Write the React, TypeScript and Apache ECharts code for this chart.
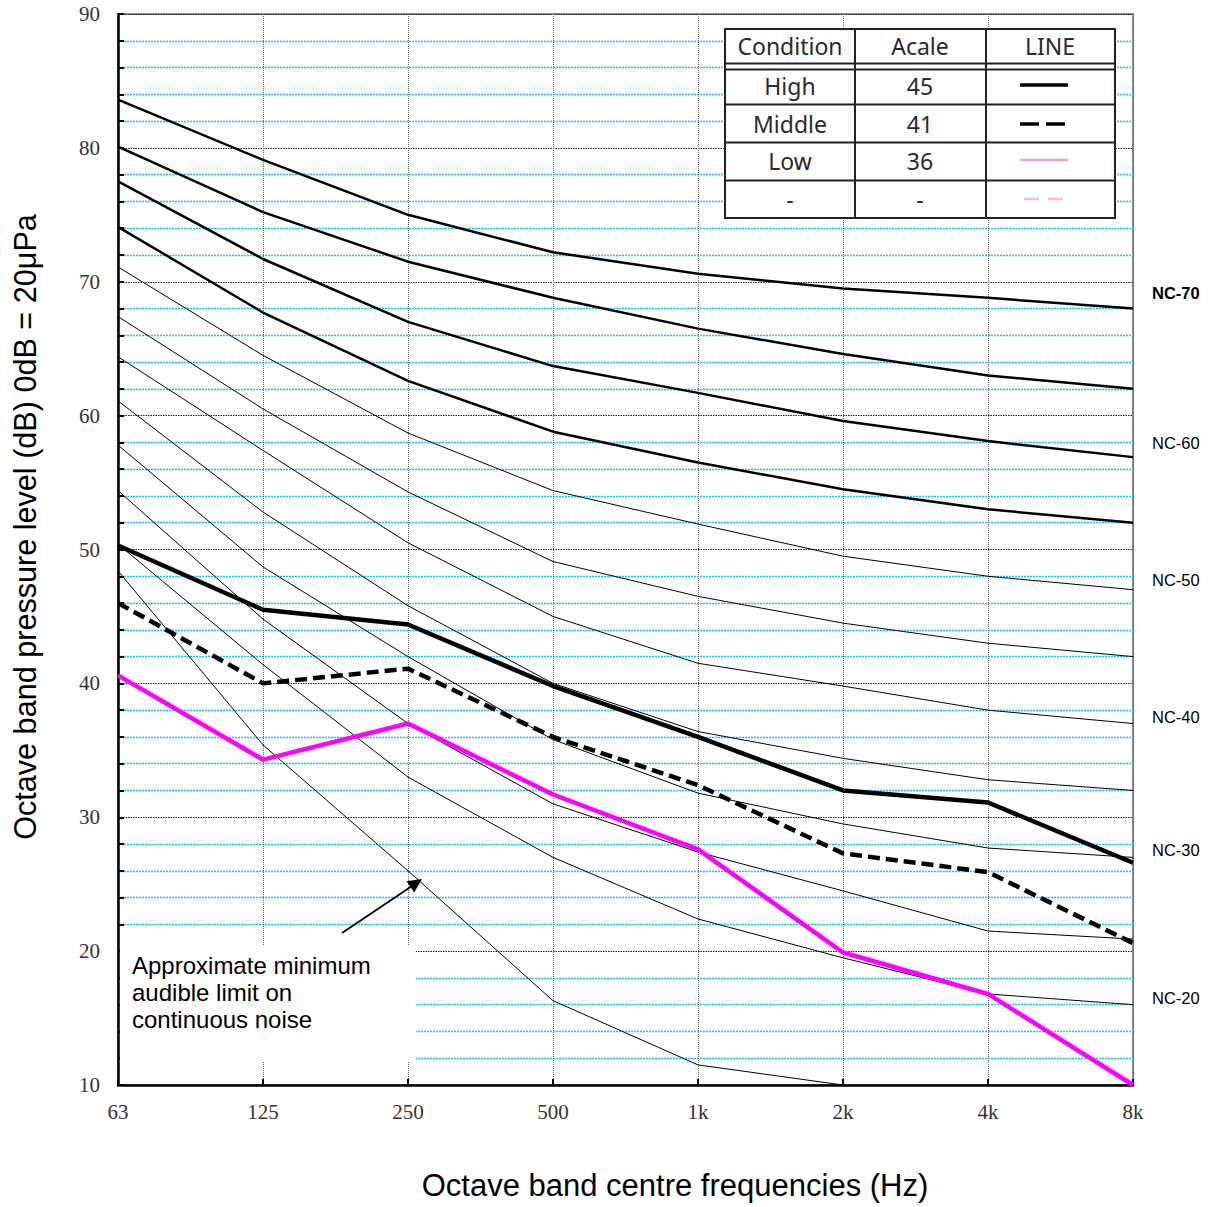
import React, { useEffect, useRef } from "react";
import * as echarts from "echarts";

const categories = ["63", "125", "250", "500", "1k", "2k", "4k", "8k"];

// NC reference curves (dB)
const nc70 = [83.6, 79.1, 75.0, 72.2, 70.6, 69.5, 68.8, 68.0];
const nc65 = [80.1, 75.2, 71.5, 68.8, 66.5, 64.6, 63.0, 62.0];
const nc60 = [77.5, 71.7, 67.0, 63.7, 61.7, 59.6, 58.1, 56.9];
const nc55 = [74.1, 67.7, 62.6, 58.8, 56.5, 54.5, 53.0, 52.0];
const nc50 = [71.1, 64.5, 58.7, 54.4, 51.9, 49.5, 48.0, 47.0];
const nc45 = [67.4, 60.5, 54.3, 49.1, 46.5, 44.5, 43.0, 42.0];
const nc40 = [64.4, 57.4, 50.5, 45.0, 41.5, 39.8, 38.0, 37.0];
const nc35 = [61.1, 52.8, 45.8, 40.0, 36.4, 34.4, 32.8, 32.0];
const nc30 = [57.8, 48.7, 42.0, 35.8, 31.8, 29.5, 27.7, 27.0];
const nc25 = [54.4, 44.8, 37.0, 31.0, 27.4, 24.5, 21.5, 20.9];
const nc20 = [50.4, 41.4, 33.0, 27.0, 22.4, 19.5, 16.8, 16.0];
const audibleLimit = [48.4, 35.4, 26.0, 16.3, 11.5, 10.0];

// Measured conditions
const highValues = [50.3, 45.5, 44.4, 39.8, 36.0, 32.0, 31.1, 26.6];
const middleValues = [46.0, 40.0, 41.1, 36.0, 32.4, 27.3, 25.9, 20.6];
const lowValues = [40.6, 34.3, 37.0, 31.7, 27.6, 19.9, 16.8, 10.0];

const ncLabels = ["NC-70", "NC-60", "NC-50", "NC-40", "NC-30", "NC-20"];
const tableHeader = ["Condition", "Acale", "LINE"];
const tableConditions = ["High", "Middle", "Low", "-"];
const tableAcale = ["45", "41", "36", "-"];

const SANS = "'Liberation Sans', Arial, sans-serif";
const SERIF = "'Liberation Serif', 'Times New Roman', serif";
const TABLE_FONT = "'Noto Sans', 'Open Sans', sans-serif";

export default function App() {
  const ref = useRef<HTMLDivElement>(null);

  useEffect(() => {
    if (!ref.current) return;
    const chart = echarts.init(ref.current, undefined, { renderer: "svg" });

    const ncThick = [nc70, nc65, nc60, nc55];
    const ncThin = [nc50, nc45, nc40, nc35, nc30, nc25, nc20, audibleLimit];

    const series: any[] = [];
    ncThick.forEach((d, i) =>
      series.push({
        type: "line",
        name: "ncThick" + i,
        data: d,
        symbol: "none",
        silent: true,
        z: 2,
        lineStyle: { color: "#000", width: 2.5 },
      })
    );
    ncThin.forEach((d, i) =>
      series.push({
        type: "line",
        name: "ncThin" + i,
        data: d,
        symbol: "none",
        silent: true,
        z: 2,
        lineStyle: { color: "#000", width: 1 },
      })
    );
    series.push({
      type: "line",
      name: "High",
      data: highValues,
      symbol: "none",
      z: 5,
      lineStyle: { color: "#000", width: 4.5 },
    });
    series.push({
      type: "line",
      name: "Middle",
      data: middleValues,
      symbol: "none",
      z: 5,
      lineStyle: { color: "#000", width: 4.5, type: [12, 6] },
    });
    series.push({
      type: "line",
      name: "Low",
      data: lowValues,
      symbol: "none",
      z: 5,
      lineStyle: { color: "#ff00ff", width: 4.5 },
    });

    // table geometry
    const tx = 725, ty = 29, tw = 390, th = 189;
    const colX = [855, 986];
    const rowY = [63.5, 69.5, 104.5, 142.5, 180.5];
    const colCenters = [790, 920, 1050];
    const rowCenters = [86, 124, 161, 199];

    const graphic: any[] = [];
    graphic.push({
      type: "rect",
      z: 100,
      shape: { x: tx, y: ty, width: tw, height: th },
      style: { fill: "#fff", stroke: "#222", lineWidth: 2 },
    });
    rowY.forEach((y) =>
      graphic.push({
        type: "line",
        z: 101,
        shape: { x1: tx, y1: y, x2: tx + tw, y2: y },
        style: { stroke: "#222", lineWidth: 2 },
      })
    );
    colX.forEach((x) =>
      graphic.push({
        type: "line",
        z: 101,
        shape: { x1: x, y1: ty, x2: x, y2: ty + th },
        style: { stroke: "#222", lineWidth: 2 },
      })
    );
    const cellText = (t: string, x: number, y: number) => ({
      type: "text",
      z: 102,
      x,
      y,
      style: {
        text: t,
        fontFamily: TABLE_FONT,
        fontSize: 23,
        fill: "#2a2a2a",
        align: "center",
        verticalAlign: "middle",
      },
    });
    tableHeader.forEach((t, i) => graphic.push(cellText(t, colCenters[i], 46)));
    tableConditions.forEach((t, i) =>
      graphic.push(cellText(t, colCenters[0], rowCenters[i]))
    );
    tableAcale.forEach((t, i) =>
      graphic.push(cellText(t, colCenters[1], rowCenters[i]))
    );
    // line samples
    graphic.push({
      type: "line",
      z: 102,
      shape: { x1: 1020, y1: 85, x2: 1068, y2: 85 },
      style: { stroke: "#000", lineWidth: 3.5 },
    });
    graphic.push({
      type: "line",
      z: 102,
      shape: { x1: 1020, y1: 124, x2: 1068, y2: 124 },
      style: { stroke: "#000", lineWidth: 3.5, lineDash: [19, 7] },
    });
    graphic.push({
      type: "line",
      z: 102,
      shape: { x1: 1020, y1: 160, x2: 1068, y2: 160 },
      style: { stroke: "#e6a8cf", lineWidth: 2.5 },
    });
    graphic.push({
      type: "line",
      z: 102,
      shape: { x1: 1024, y1: 199, x2: 1068, y2: 199 },
      style: { stroke: "#f0c0d8", lineWidth: 2.5, lineDash: [15, 9] },
    });

    // annotation box
    graphic.push({
      type: "rect",
      z: 100,
      shape: { x: 120, y: 946, width: 296, height: 116 },
      style: { fill: "#fff" },
    });
    graphic.push({
      type: "text",
      z: 102,
      x: 132,
      y: 952,
      style: {
        text: "Approximate minimum\naudible limit on\ncontinuous noise",
        fontFamily: SANS,
        fontSize: 24,
        lineHeight: 27,
        fill: "#000",
        align: "left",
        verticalAlign: "top",
      },
    });
    // arrow
    graphic.push({
      type: "line",
      z: 102,
      shape: { x1: 342, y1: 933, x2: 412, y2: 886 },
      style: { stroke: "#000", lineWidth: 1.8 },
    });
    graphic.push({
      type: "polygon",
      z: 102,
      shape: {
        points: [
          [422, 879],
          [414.2, 892.4],
          [406.6, 881.2],
        ],
      },
      style: { fill: "#000" },
    });

    // NC labels
    const ncLabelY = [293, 443, 580, 717, 850, 998];
    ncLabels.forEach((t, i) =>
      graphic.push({
        type: "text",
        z: 102,
        x: 1152,
        y: ncLabelY[i],
        style: {
          text: t,
          fontFamily: SANS,
          fontSize: 16.5,
          fontWeight: i === 0 ? "bold" : "normal",
          fill: "#000",
          align: "left",
          verticalAlign: "middle",
        },
      })
    );

    // axis titles
    graphic.push({
      type: "text",
      z: 102,
      x: 25,
      y: 527,
      rotation: Math.PI / 2,
      style: {
        text: "Octave band pressure level (dB) 0dB = 20μPa",
        fontFamily: SANS,
        fontSize: 30.6,
        fill: "#000",
        align: "center",
        verticalAlign: "middle",
      },
    });
    graphic.push({
      type: "text",
      z: 102,
      x: 675,
      y: 1185,
      style: {
        text: "Octave band centre frequencies (Hz)",
        fontFamily: SANS,
        fontSize: 31,
        fill: "#000",
        align: "center",
        verticalAlign: "middle",
      },
    });

    chart.setOption({
      animation: false,
      backgroundColor: "#fff",
      grid: {
        left: 118,
        top: 14,
        width: 1015,
        height: 1071,
        show: true,
        borderColor: "#8a8a8a",
        borderWidth: 2,
        backgroundColor: "transparent",
      },
      xAxis: {
        type: "category",
        data: categories,
        boundaryGap: false,
        axisLine: { lineStyle: { color: "#000", width: 2.5 } },
        axisTick: {
          inside: true,
          length: 6,
          alignWithLabel: true,
          lineStyle: { color: "#000", width: 2 },
        },
        axisLabel: {
          fontFamily: SERIF,
          fontSize: 21,
          color: "#333",
          margin: 16,
        },
        splitLine: {
          show: true,
          lineStyle: { color: "#666", type: "dotted", width: 1 },
        },
      },
      yAxis: {
        type: "value",
        min: 10,
        max: 90,
        interval: 10,
        axisLine: { show: true, lineStyle: { color: "#000", width: 2.5 } },
        axisTick: {
          show: true,
          inside: true,
          length: 6,
          lineStyle: { color: "#000", width: 2 },
        },
        minorTick: {
          show: true,
          splitNumber: 5,
          length: 6,
          lineStyle: { color: "#000", width: 2 },
        },
        axisLabel: {
          fontFamily: SERIF,
          fontSize: 21,
          color: "#333",
          margin: 18,
        },
        splitLine: {
          show: true,
          lineStyle: { color: "#222", type: [1.5, 1], width: 1 },
        },
        minorSplitLine: {
          show: true,
          lineStyle: { color: "#10c4f4", type: [2, 1], width: 1.3 },
        },
      },
      series,
      graphic,
    });

    return () => chart.dispose();
  }, []);

  return (
    <div
      ref={ref}
      style={{ position: "absolute", left: 0, top: 0, width: 1212, height: 1207 }}
    />
  );
}
